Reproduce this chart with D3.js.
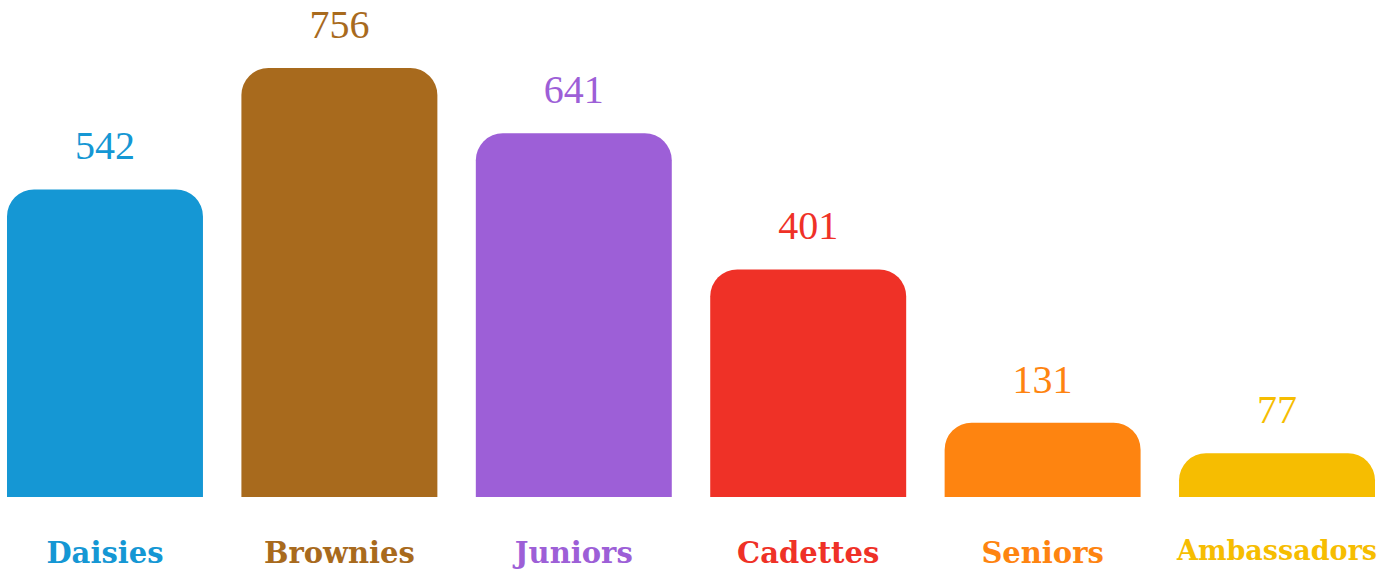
<!DOCTYPE html>
<html>
<head>
<meta charset="utf-8">
<script src="https://cdn.jsdelivr.net/npm/d3@7"></script>
<style>
  html, body { margin: 0; padding: 0; background: #fff; }
  svg { display: block; }
</style>
</head>
<body>
<svg id="chart"></svg>
<script>
const levels = ['Daisies', 'Brownies', 'Juniors', 'Cadettes', 'Seniors', 'Ambassadors']
const counts = [542, 756, 641, 401, 131, 77]
const colors = ['#1597d4', '#a86a1d', '#9d5fd7', '#ef3127', '#fe8410', '#f6bd01']

const width = 1393
const height = 570
const baseY = 497
const radius = 27

const svg = d3.select('#chart')
	.attr('width', width)
	.attr('height', height)

const data = levels.map((name, i) => ({ name, value: counts[i], color: colors[i] }))

const x = d3.scaleBand()
	.domain(levels)
	.range([7, 1375])
	.paddingInner(0.164)
	.paddingOuter(0)

const y = d3.scaleLinear()
	.domain([0, 756])
	.range([baseY, 68])

// bar with rounded top corners only
function barPath(d) {
	const x0 = x(d.name), x1 = x0 + x.bandwidth()
	const top = y(d.value)
	const r = Math.min(radius, baseY - top, x.bandwidth() / 2)
	return `M${x0},${baseY}V${top + r}A${r},${r} 0 0 1 ${x0 + r},${top}` +
		`H${x1 - r}A${r},${r} 0 0 1 ${x1},${top + r}V${baseY}Z`
}

const g = svg.selectAll('.bar')
	.data(data)
	.join('g')
	.attr('class', 'bar')

g.append('path')
	.attr('d', barPath)
	.attr('fill', d => d.color)

g.append('text')
	.attr('x', d => x(d.name) + x.bandwidth() / 2)
	.attr('y', d => y(d.value) - 30)
	.attr('text-anchor', 'middle')
	.attr('font-family', '"Liberation Serif", serif')
	.attr('font-size', 40)
	.attr('fill', d => d.color)
	.text(d => d.value)

g.append('text')
	.attr('x', d => x(d.name) + x.bandwidth() / 2)
	.attr('y', d => d.name === 'Ambassadors' ? 560 : 563)
	.attr('text-anchor', 'middle')
	.attr('font-family', '"DejaVu Serif", serif')
	.attr('font-weight', 'bold')
	.attr('font-size', d => d.name === 'Ambassadors' ? 27 : 29)
	.attr('fill', d => d.color)
	.text(d => d.name)
</script>
</body>
</html>
